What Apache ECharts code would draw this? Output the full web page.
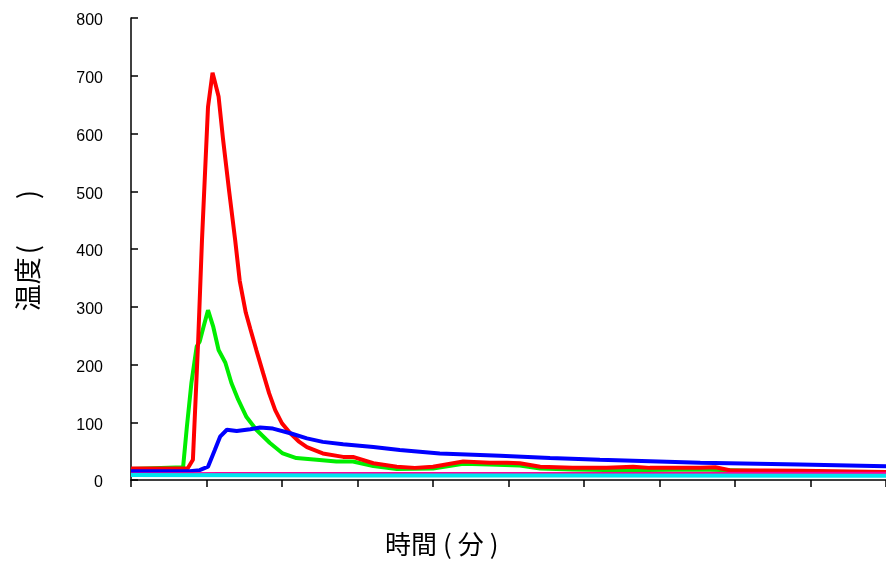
<!DOCTYPE html>
<html>
<head>
<meta charset="utf-8">
<script src="https://cdn.jsdelivr.net/npm/echarts@6/dist/echarts.min.js"></script>
<style>
  html, body { margin: 0; padding: 0; background: #fff; }
  #main { width: 886px; height: 565px; }
</style>
</head>
<body>
<div id="main"></div>
<script>
// 時間軸の目盛 (ラベルなし)
var xTicks = [0, 10, 20, 30, 40, 50, 60, 70, 80, 90, 100];
var yTicks = ['0', '100', '200', '300', '400', '500', '600', '700', '800'];

// 各系列 [時間, 温度]
var redData = [
  [0, 20], [7.5, 20], [8.2, 35], [8.9, 242], [9.4, 415], [10.2, 646], [10.8, 705],
  [11.1, 690], [11.6, 664], [12.2, 589], [13.0, 500], [13.8, 415], [14.4, 345],
  [15.2, 290], [15.8, 262], [16.6, 225], [17.5, 185], [18.3, 150], [19.1, 121],
  [20.0, 98], [21.1, 81], [22.2, 67], [23.3, 57], [25.4, 46],
  [28.1, 40], [29.4, 40], [32.1, 29], [35.2, 23], [37.6, 21], [40.0, 23],
  [44.0, 32], [47.5, 30], [49.8, 30], [51.5, 29], [54.2, 23], [58.5, 21],
  [63.0, 21], [66.5, 23], [68.7, 21], [75.4, 21], [77.4, 22], [79.3, 17],
  [88.6, 16], [100, 14]
];
var greenData = [
  [0, 19], [6.9, 22], [7.4, 92], [8.0, 168], [8.7, 231], [9.1, 240], [9.6, 265],
  [10.2, 294], [10.9, 265], [11.6, 225], [12.5, 203], [13.3, 168], [14.2, 139],
  [15.3, 109], [16.6, 87], [18.4, 64], [20.1, 46], [21.9, 38], [24.6, 35],
  [27.2, 32], [29.4, 32], [32.1, 24], [35.2, 19], [40.0, 20], [44.0, 28],
  [47.5, 27], [51.5, 25], [54.2, 20], [58.5, 18], [64.8, 17], [75.4, 18],
  [88.6, 14], [100, 12]
];
var blueData = [
  [0, 15], [7.8, 15], [9.1, 17], [10.2, 23], [11.1, 52], [11.8, 75], [12.7, 87],
  [14.0, 85], [15.8, 88], [17.1, 91], [18.8, 89], [21.1, 81], [23.3, 72],
  [25.4, 66], [28.1, 62], [32.1, 57], [35.6, 52], [40.9, 46], [48.9, 42],
  [55.5, 38], [62.1, 35], [75.4, 30], [88.6, 27], [100, 24]
];
var pinkData = [[0, 11], [12, 11.5], [50, 11.5], [100, 12]];
var cyanData = [[0, 8.5], [30, 8], [60, 8], [100, 7.5]];

var chart = echarts.init(document.getElementById('main'));

function line(name, color, width, data) {
  return {
    name: name, type: 'line', data: data, showSymbol: false, smooth: false,
    lineStyle: { color: color, width: width }, itemStyle: { color: color },
    animation: false
  };
}

chart.setOption({
  animation: false,
  grid: { left: 131, right: 0, top: 18, bottom: 85 },
  xAxis: {
    type: 'value', min: xTicks[0], max: xTicks[xTicks.length - 1], interval: 10,
    axisLine: { lineStyle: { color: '#000', width: 1.5 } },
    axisTick: { show: true, inside: false, length: 7, lineStyle: { color: '#000', width: 1.5 } },
    axisLabel: { show: false },
    splitLine: { show: false }
  },
  yAxis: {
    type: 'value', min: 0, max: 800, interval: 100,
    name: '{t|温度}{p|(}{g|}{p|)}',
    nameLocation: 'middle', nameGap: 90,
    nameTextStyle: {
      rich: {
        t: { fontSize: 27, fontFamily: 'Noto Sans CJK JP', color: '#000' },
        p: { fontSize: 27, fontFamily: 'Noto Sans CJK JP', color: '#000', padding: [0, 3] },
        g: { width: 40 }
      }
    },
    axisLine: { show: true, lineStyle: { color: '#000', width: 1.5 } },
    axisTick: { show: true, inside: true, length: 7, lineStyle: { color: '#000', width: 1.5 } },
    axisLabel: {
      margin: 28,
      formatter: function (v) { return '{n|' + yTicks[Math.round(v / 100)] + '}'; },
      rich: {
        n: { fontSize: 16, color: '#000', fontFamily: 'Liberation Sans, Arial', padding: [6, 0, 0, 0] }
      }
    },
    splitLine: { show: false }
  },
  graphic: [{
    type: 'text', left: 385, top: 531,
    style: {
      text: '{t|時間}{p|(}{t|分}{p|)}',
      rich: {
        t: { fontSize: 26, fontFamily: 'Noto Sans CJK JP', fill: '#000' },
        p: { fontSize: 26, fontFamily: 'Noto Sans CJK JP', fill: '#000', padding: [0, 6] }
      }
    }
  }],
  series: [
    line('緑', '#00ee00', 4, greenData),
    line('赤', '#ff0000', 4, redData),
    line('青', '#0000ff', 4, blueData),
    line('桃', '#ff0099', 2.5, pinkData),
    line('水', '#00e5ee', 4, cyanData)
  ]
});
</script>
</body>
</html>
